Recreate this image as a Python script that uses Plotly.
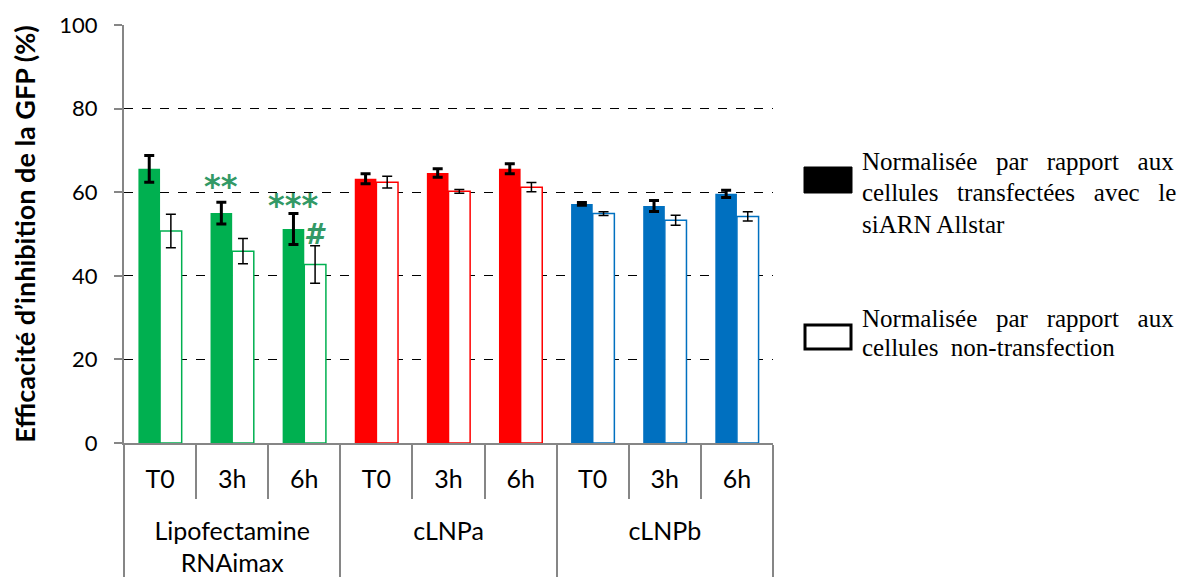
import plotly.graph_objects as go

# ---- data ----
groups = ["<br>Lipofectamine<br>RNAimax"] * 3 + ["<br>cLNPa"] * 3 + ["<br>cLNPb"] * 3
times = ["T0", "3h", "6h"] * 3
allstar_vals = [65.6, 55.0, 51.2, 63.2, 64.6, 65.6, 57.2, 56.7, 59.6]
allstar_err = [3.2, 2.6, 3.7, 1.2, 1.0, 1.2, 0.35, 1.3, 0.85]
nontransf_vals = [50.7, 45.9, 42.7, 62.4, 60.2, 61.2, 54.9, 53.3, 54.2]
nontransf_err = [4.0, 3.0, 4.5, 1.4, 0.45, 1.1, 0.45, 1.2, 1.1]
bar_colors = ["#00B050"] * 3 + ["#FF0000"] * 3 + ["#0070C0"] * 3
y_ticks = [0, 20, 40, 60, 80, 100]

# significance marks: (category index, series side, y value, text)
sig_marks = [(1, -1, 61.4, "**"), (2, -1, 57.0, "***"), (2, 1, 49.9, "#")]

GAP = "\u2002\u2005"  # widened gaps to mimic justified legend text
legend_lines_1 = ["Normalisée" + GAP + "par" + GAP + "rapport" + GAP + "aux",
                  "cellules" + GAP + "transfectées" + GAP + "avec" + GAP + "le",
                  "siARN Allstar"]
legend_lines_2 = ["Normalisée" + GAP + "par" + GAP + "rapport" + GAP + "aux",
                  "cellules\u2002non-transfection"]

AX_GRAY = "#868686"
FONT = "Lato"

fig = go.Figure()
fig.add_trace(go.Bar(
    x=[groups, times], y=allstar_vals,
    marker=dict(color=bar_colors, line=dict(width=0)),
    error_y=dict(type="data", array=allstar_err, color="black", thickness=3, width=5),
    showlegend=False,
))
fig.add_trace(go.Bar(
    x=[groups, times], y=nontransf_vals,
    marker=dict(color="white", line=dict(color=bar_colors, width=1.5)),
    error_y=dict(type="data", array=nontransf_err, color="black", thickness=1.5, width=5),
    showlegend=False,
))

OFF = 8  # page body margin
W, H = 1185 - OFF, 577 - OFF
L, R, T, B = 124 - OFF, 412, 25 - OFF, 134
pw = W - L - R
ph = H - T - B
n_cat = len(times)

annotations = []
for idx, side, yv, txt in sig_marks:
    xp = (idx + 0.5 + side * 0.15) / n_cat
    if txt == "#":
        f = dict(family="DejaVu Sans", size=28, color="#339966", style="italic", weight="bold")
    else:
        f = dict(family="DejaVu Sans", size=32, color="#339966", weight="bold")
    annotations.append(dict(x=xp, xref="paper", y=yv, yref="y", text=txt, showarrow=False,
                            font=f, xanchor="center", yanchor="middle"))


def px2x(px):
    return (px - OFF - L) / pw


def px2y(py):
    return (H - B - (py - OFF)) / ph


leg_font = dict(family="Liberation Serif", size=25, color="black")
for line, y in zip(legend_lines_1, [161, 192, 224]):
    annotations.append(dict(x=px2x(860), xref="paper", y=px2y(y), yref="paper", text=line,
                            showarrow=False, xanchor="left", yanchor="middle", font=leg_font))
for line, y in zip(legend_lines_2, [318, 347]):
    annotations.append(dict(x=px2x(860), xref="paper", y=px2y(y), yref="paper", text=line,
                            showarrow=False, xanchor="left", yanchor="middle", font=leg_font))

shapes = [
    dict(type="rect", xref="paper", yref="paper", x0=px2x(804), x1=px2x(852), y0=px2y(193), y1=px2y(167),
         fillcolor="black", line=dict(color="black", width=1)),
    dict(type="rect", xref="paper", yref="paper", x0=px2x(805), x1=px2x(851), y0=px2y(349), y1=px2y(325),
         fillcolor="white", line=dict(color="black", width=3)),
]

fig.update_layout(
    width=W, height=H,
    margin=dict(l=L, r=R, t=T, b=B, pad=0, autoexpand=False),
    paper_bgcolor="white", plot_bgcolor="white",
    barmode="group", bargap=0.4, bargroupgap=0,
    annotations=annotations, shapes=shapes,
    font=dict(family=FONT, color="black"),
    xaxis=dict(
        type="multicategory", automargin=False,
        showline=True, linecolor=AX_GRAY, linewidth=2,
        ticks="outside", ticklen=54, tickcolor=AX_GRAY, tickwidth=2,
        showdividers=True, dividercolor=AX_GRAY, dividerwidth=2,
        tickfont=dict(family=FONT, size=25, color="black"),
        ticklabelstandoff=13,
        showgrid=False,
    ),
    yaxis=dict(
        range=[0, 100], tickvals=y_ticks, automargin=False,
        showgrid=True, gridcolor="black", gridwidth=1, griddash="dash",
        zeroline=False,
        showline=True, linecolor=AX_GRAY, linewidth=2,
        ticks="outside", ticklen=8, tickcolor=AX_GRAY, tickwidth=2,
        tickfont=dict(family=FONT, size=22, color="black"),
        ticklabelstandoff=12,
        title=dict(text="<b>Efficacité d’inhibition de la GFP (%)</b>",
                   font=dict(family=FONT, size=27, color="black"), standoff=17),
    ),
)

fig.write_html("out.html")
